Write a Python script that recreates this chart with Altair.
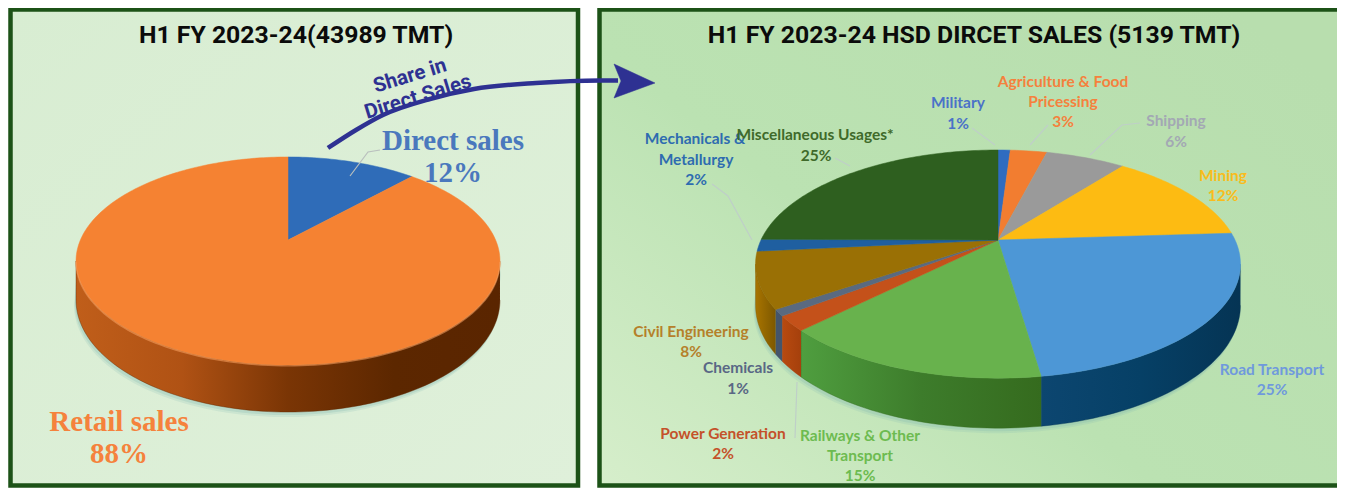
import numpy as np
import pandas as pd
import altair as alt

# ---- values
left_names = ["Direct sales", "Retail sales"]
left_values = [12.0, 88.0]
left_tops = ["#2f6cb8", "#f58232"]
left_sides = [("#1f4f90", "#1f4f90"), ("#c05e1a", "#b05214", "#7a3505", "#5c2700", "#5a2500")]

right_names = ["Military", "Agriculture & Food Pricessing", "Shipping", "Mining", "Road Transport",
               "Railways & Other Transport", "Power Generation", "Chemicals", "Civil Engineering",
               "Mechanicals & Metallurgy", "Miscellaneous Usages*"]
right_values = [1.0, 3.0, 6.5, 13.5, 23.7, 14.8, 2.1, 0.9, 7.9, 1.7, 24.9]
right_tops = ["#2f6cc0", "#f27d30", "#9a9a9a", "#fdbb12", "#4d97d6", "#68b24d",
              "#c4511a", "#5a6a80", "#9a7005", "#1f5fa0", "#2e5f1f"]
right_sides = [("#1f4f90", "#1f4f90"), ("#b05a20", "#b05a20"), ("#707070", "#707070"),
               ("#b08010", "#b08010"), ("#0c4670", "#064066", "#053454"), ("#4f9e3f", "#3d7c2b", "#356b1e"),
               ("#b84a10", "#a5400c"), ("#44556c", "#44556c"), ("#a87400", "#7d5800"),
               ("#164a80", "#164a80"), ("#234a18", "#234a18")]

SX = alt.Scale(domain=[8, 1337], range=[0, 1329], nice=False, zero=False)
SY = alt.Scale(domain=[8, 488], range=[0, 480], nice=False, zero=False)
X = lambda f="x": alt.X(f"{f}:Q", scale=SX, axis=None)
Y = lambda f="y": alt.Y(f"{f}:Q", scale=SY, axis=None)


def poly(xs, ys, **mark):
    df = pd.DataFrame({"x": xs, "y": ys, "i": range(len(xs))})
    return alt.Chart(df).mark_line(**mark).encode(x=X(), y=Y(), order="i:Q")


def grad(colors, x1=0, y1=0, x2=1, y2=0):
    n = len(colors) - 1
    return alt.LinearGradient(gradient="linear", x1=x1, y1=y1, x2=x2, y2=y2,
                              stops=[alt.GradientStop(color=c, offset=j / n)
                                     for j, c in enumerate(colors)])


def pie(values, tops, sides, cx, cy, rx, ry, k, thick, glow):
    def pt(t):
        u, v = np.sin(t), np.cos(t)
        d = 1 + k * v
        return cx + rx * u / d, cy - ry * v / d, thick * (1 - k) / d

    a = np.r_[0, np.cumsum(values)] / np.sum(values) * 2 * np.pi
    t0 = np.arccos(-k)
    t1 = 2 * np.pi - t0
    shadow, walls, faces, rims = [], [], [], []
    tt = np.linspace(t0, t1, 90)
    hx, hy, ht = pt(tt)
    for off, op in ((5, 0.18), (3, 0.25)):
        shadow.append(poly(np.r_[hx - off * 0.4, (hx + off * 0.4)[::-1]],
                           np.r_[hy + ht + off, (hy)[::-1]],
                           fill="#7fb7b0", stroke=None, filled=True, opacity=op, interpolate="linear"))
    for i in range(len(values)):
        lo, hi = max(a[i], t0), min(a[i + 1], t1)
        if hi > lo:
            tt = np.linspace(lo, hi, max(3, int((hi - lo) * 40)))
            x, y, h = pt(tt)
            walls.append(poly(np.r_[x, x[::-1]], np.r_[y, (y + h)[::-1]],
                              fill=grad(sides[i]), filled=True, strokeWidth=0.4,
                              stroke=sides[i][-1], interpolate="linear"))
            if glow:
                rims.append(poly(x, y + 0.8, stroke=glow, strokeWidth=1.4, opacity=0.55,
                                 interpolate="linear"))
        tt = np.linspace(a[i], a[i + 1], max(3, int((a[i + 1] - a[i]) * 50)))
        x, y, _ = pt(tt)
        faces.append(poly(np.r_[cx, x, cx], np.r_[cy, y, cy], fill=tops[i], filled=True,
                          stroke=tops[i], strokeWidth=0.5, interpolate="linear"))
    return shadow + walls + faces + rims


def panel(x0, x1, y0, y1, fill):
    df = pd.DataFrame({"x": [x0], "x2": [x1], "y": [y0], "y2": [y1]})
    return alt.Chart(df).mark_rect(fill=fill, stroke="#1c5217", strokeWidth=4.5).encode(
        x=X(), x2="x2:Q", y=Y(), y2="y2:Q")


def texts(rows, color, font, size, weight="normal", angle=0, opacity=1):
    df = pd.DataFrame(rows, columns=["t", "x", "y"])
    return alt.Chart(df).mark_text(color=color, font=font, fontSize=size, fontWeight=weight,
                                   angle=angle, align="center", baseline="middle",
                                   opacity=opacity).encode(x=X(), y=Y(), text="t:N")


def leader(xs, ys, color="#bfcfc8"):
    return poly(xs, ys, stroke=color, strokeWidth=1.2, interpolate="linear")


layers = []
layers.append(panel(10.5, 578, 9.5, 485.5, grad(["#d8edd2", "#dff0da"], x2=1, y2=1)))
layers.append(panel(599.5, 1356, 9.5, 485.5, alt.LinearGradient(
    gradient="linear", x1=0, y1=1, x2=1, y2=0.2,
    stops=[alt.GradientStop(color="#d6eecb", offset=0),
           alt.GradientStop(color="#bbe2b2", offset=0.45),
           alt.GradientStop(color="#b8deae", offset=1)])))

layers += pie(left_values, left_tops, left_sides, 288, 240, 207.6, 99.8, 0.202, 47, "#fba262")
layers += pie(right_values, right_tops, right_sides, 998, 240, 237, 109, 0.211, 50, None)

SANS = "Lato"
NARROW = "Roboto"
SERIF = "Liberation Serif"

layers.append(texts([["H1 FY 2023-24(43989 TMT)", 296, 36]], "#0b0b0b", NARROW, 24.8, "bold"))
layers.append(texts([["H1 FY 2023-24 HSD DIRCET SALES (5139 TMT)", 974, 36]], "#0b0b0b", NARROW, 24.8, "bold"))
layers.append(texts([["Direct sales", 453, 141], ["12%", 453, 173]], "#4a78bd", SERIF, 29, "bold"))
layers.append(texts([["Retail sales", 119, 422], ["88%", 119, 454]], "#f5823c", SERIF, 29, "bold"))

label_sets = [
    ([["Military", 958, 103], ["1%", 958, 124]], "#4a72c8"),
    ([["Agriculture & Food", 1063, 82], ["Pricessing", 1063, 102], ["3%", 1063, 122]], "#f5813d"),
    ([["Shipping", 1176, 121], ["6%", 1176, 142]], "#a3a8b4"),
    ([["Mining", 1223, 176], ["12%", 1223, 196]], "#f9bc1c"),
    ([["Mechanicals &", 695, 139], ["Metallurgy", 696, 160], ["2%", 696, 180]], "#2e6cb0"),
    ([["Miscellaneous Usages*", 815, 135], ["25%", 816, 156]], "#3f6a2a"),
    ([["Civil Engineering", 691, 332], ["8%", 691, 352]], "#b5802a"),
    ([["Chemicals", 738, 368], ["1%", 738, 389]], "#596785"),
    ([["Power Generation", 723, 434], ["2%", 723, 454]], "#c4512a"),
    ([["Railways & Other", 860, 436], ["Transport", 860, 456], ["15%", 860, 476]], "#6dbb50"),
    ([["Road Transport", 1272, 370], ["25%", 1272, 390]], "#6f99dd"),
]
for rows, col in label_sets:
    layers.append(texts(rows, col, SANS, 15.5, "bold"))

layers.append(leader([380, 368, 350], [150, 152, 176], "#b9bfbd"))
layers.append(leader([712, 728, 752], [184, 196, 240]))
layers.append(leader([835, 850], [158, 166]))
layers.append(leader([972, 995], [128, 145]))
layers.append(leader([1048, 1030], [125, 145]))
layers.append(leader([1140, 1122, 1090], [123, 125, 155]))
layers.append(leader([795, 797], [438, 382]))

# arrow
layers.append(poly([328, 356, 383, 430, 474, 536, 600, 618], [148, 130, 115, 99, 89, 83, 80.5, 80.5],
                   stroke="#2e3192", strokeWidth=4.5, interpolate="monotone"))
layers.append(poly([614, 655, 614, 621, 614], [64, 83, 98, 81, 64], fill="#2e3192",
                   stroke="#2e3192", filled=True, strokeWidth=0.5, interpolate="linear"))
layers.append(texts([["Share in", 410, 76]], "#2e3192", NARROW, 20.5, "bold", angle=343))
layers.append(texts([["Direct Sales", 418, 97]], "#2e3192", NARROW, 20.5, "bold", angle=343))

chart = alt.layer(*layers).properties(
    width=1329, height=480, padding=0,
    autosize=alt.AutoSizeParams(type="none"),
    background="#ffffff",
).configure_view(stroke=None)

chart.save("out.html", embed_options={"renderer": "svg", "actions": False})
